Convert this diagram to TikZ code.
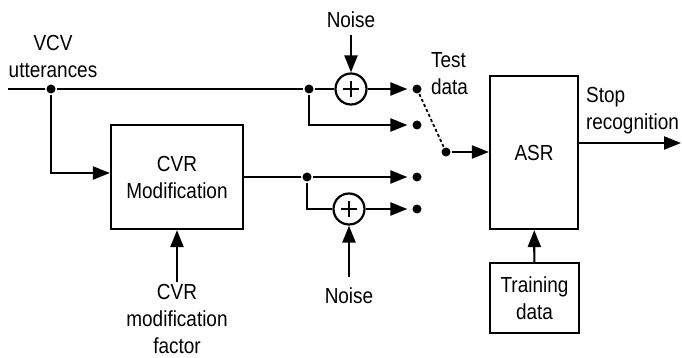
\documentclass[tikz,border=0pt]{standalone}
\usepackage{fontspec}
\setmainfont[FakeStretch=0.87]{Liberation Sans}
\usetikzlibrary{arrows.meta}

\begin{document}
\begin{tikzpicture}[x=1pt,y=-1pt,line width=2.2pt,
  >={Triangle[length=17pt,width=13pt]},
  lbl/.style={font=\fontsize{21.8}{27}\selectfont,inner sep=0pt},
  block/.style={draw,line width=2.2pt,font=\fontsize{21.8}{27}\selectfont,align=center,inner sep=0pt},
  summer/.style={draw,circle,minimum size=31pt,inner sep=0pt},
  dot/.style={circle,fill,inner sep=0pt,minimum size=9pt}]

\useasboundingbox (0,0) rectangle (682,358);

% blocks
\node[block,minimum width=132pt,minimum height=104pt] (cvr) at (177,177) {CVR\\Modification};
\node[block,minimum width=88pt,minimum height=153pt] (asr) at (534,152.5) {ASR};
\node[block,minimum width=89pt,minimum height=70pt] (train) at (534.5,298) {Training\\data};

% adders
\node[summer] (sum1) at (351,89) {};
\node[summer] (sum2) at (349,209) {};
\foreach \s in {sum1,sum2}{
  \draw[line width=2pt] ([xshift=-8pt]\s.center) -- ([xshift=8pt]\s.center)
                        ([yshift=-8pt]\s.center) -- ([yshift=8pt]\s.center);
}

% junctions and switch contacts
\node[dot] (j1) at (51,89) {};
\node[dot] (j2) at (309,89) {};
\node[dot] (j3) at (307,177) {};
\node[dot] (s1) at (417,89) {};
\node[dot] (s2) at (417,125) {};
\node[dot] (s3) at (417,177) {};
\node[dot] (s4) at (417,209) {};
\node[dot] (sw) at (446,152) {};

% free ends
\coordinate (in) at (8,89);
\coordinate (n1) at (351,35);
\coordinate (n2) at (349,277);
\coordinate (fac) at (177,282);
\coordinate (out) at (681,143);

% labels
\node[lbl,align=center] (vcv) at (53,56) {VCV\\utterances};
\node[lbl] (noise1) at (351,20) {Noise};
\node[lbl] (noise2) at (349,296) {Noise};
\node[lbl,align=center] (factor) at (177,319) {CVR\\modification\\factor};
\node[lbl,align=left,anchor=west] (test) at (430,74) {Test\\data};
\node[lbl,align=left,anchor=west] (stop) at (585,110.5) {Stop\\recognition};

% signal paths
\draw (in) -- (j1) -- (j2) -- (sum1);
\draw[->,shorten >=4pt] (sum1) -- (s1);
\draw[->,shorten >=4pt] (j2) |- (s2);
\draw[->] (j1) |- ([yshift=4pt]cvr.west);
\draw (cvr.east) -- (j3);
\draw[->,shorten >=4pt] (j3) -- (s3);
\draw (j3) |- (sum2);
\draw[->,shorten >=4pt] (sum2) -- (s4);
\draw[->] (n1) -- (sum1);
\draw[->] (n2) -- (sum2);
\draw[->] (fac) -- (cvr);
\draw[dashed,line width=1.8pt,dash pattern=on 3pt off 2.5pt] (s1) -- (sw);
\draw[->] (sw) -- (asr.west |- sw);
\draw[->] (asr.east |- out) -- (out);
\draw[->] (train) -- (asr);
\end{tikzpicture}
\end{document}
